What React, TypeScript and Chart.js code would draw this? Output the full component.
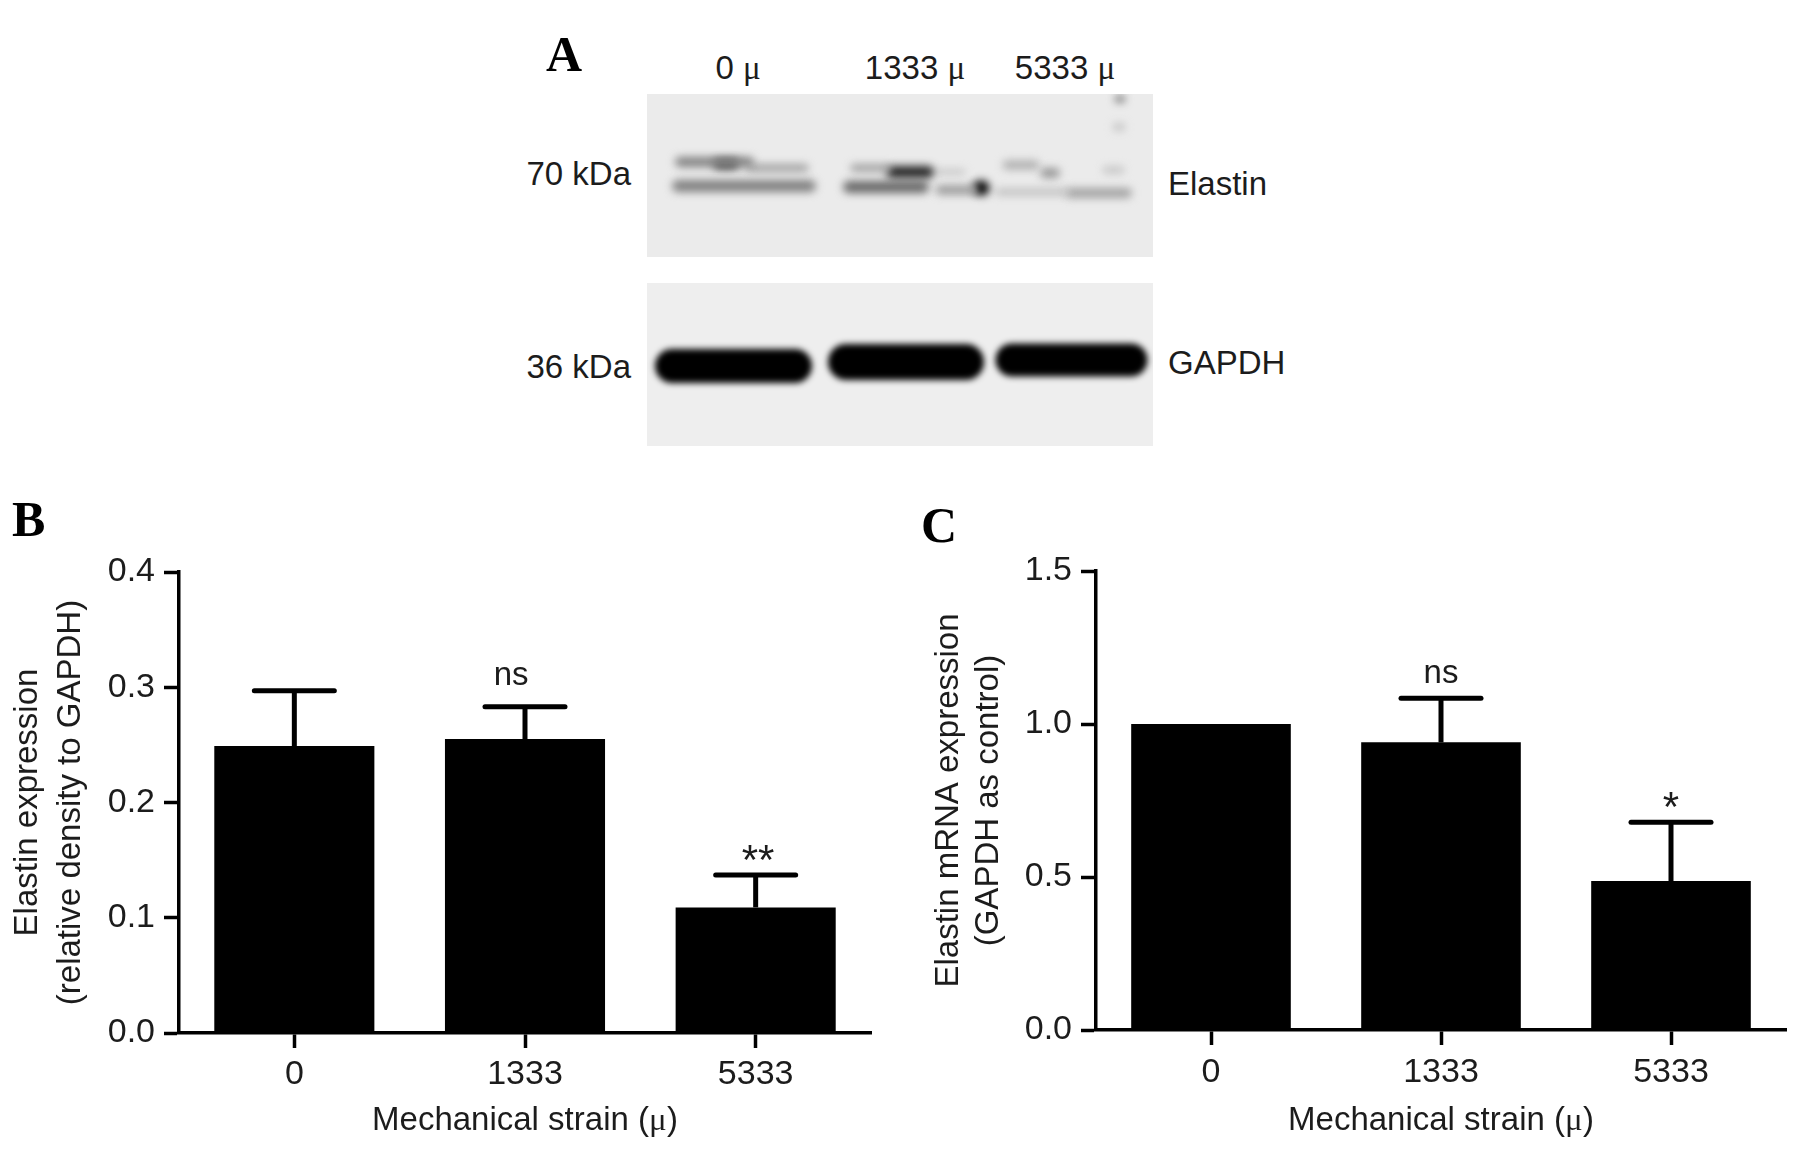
import React, { useEffect, useRef } from "react";
import { Chart, registerables } from "chart.js";

Chart.register(...registerables);

// Panel B / C data
const strainCategories = ["0", "1333", "5333"];
const proteinMeans = [0.249, 0.255, 0.109];
const proteinErrorTops = [0.297, 0.283, 0.137];
const proteinYTicks = [0, 0.1, 0.2, 0.3, 0.4];
const proteinAnnotations = ["", "ns", "**"];
const proteinAnnotationLevels = [0, 0.31, 0.148];
const proteinAnnotationShift = [0, -0.06, 0.01];

const mrnaMeans = [1.0, 0.94, 0.487];
const mrnaErrorTops = [1.0, 1.084, 0.679];
const mrnaYTicks = [0, 0.5, 1.0, 1.5];
const mrnaAnnotations = ["", "ns", "*"];
const mrnaAnnotationLevels = [0, 1.165, 0.72];
const mrnaAnnotationShift = [0, 0, 0];

// Panel A blot bands, in blot units
const elastinBandStart = [33, 71, 102, 31, 207, 245, 291, 202, 293, 333, 360, 398, 459, 352, 423, 471, 470];
const elastinBandEnd = [102, 87, 158, 163, 240, 281, 316, 276, 326, 335, 388, 408, 474, 418, 480, 475, 474];
const elastinBandLevel = [68, 70, 74, 92, 74, 78, 78, 93, 96, 94, 71, 79, 76, 98, 99, 5, 33];
const elastinBandThickness = [10, 10, 7, 12, 7, 12, 5, 12, 9, 15, 9, 10, 7, 7, 10, 6, 8];
const elastinBandDarkness = [0.45, 0.75, 0.35, 0.45, 0.35, 0.85, 0.18, 0.55, 0.35, 1, 0.25, 0.35, 0.16, 0.18, 0.3, 0.6, 0.16];

const gapdhBandStart = [25, 199, 365];
const gapdhBandEnd = [148, 319, 484];
const gapdhBandLevel = [83, 79, 77];
const gapdhBandThickness = [34, 36, 33];
const gapdhBandDarkness = [1, 1, 1];

const FONT = '"Liberation Sans", Arial, sans-serif';
const TITLE_FONT = 'MuSerif, "Liberation Sans", Arial, sans-serif';
const INK = "#1c1c1c";

type BarCfg = {
  means: number[];
  tops: number[];
  max: number;
  ticks: number[];
  notes: string[];
  noteLevels: number[];
  noteShift: number[];
  yTitle: string[];
  axisLeft: number;
  plotRight: number;
  plotTop: number;
  plotBottom: number;
  width: number;
  height: number;
  titleTop: number;
  titleLine: number;
  xTickPad: number;
};

function BarPanel(p: BarCfg & { left: number; top: number }) {
  const ref = useRef<HTMLCanvasElement>(null);
  useEffect(() => {
    const errPlugin = {
      id: "errs",
      afterDatasetsDraw(chart: any) {
        const { ctx, scales } = chart;
        const cap = 40;
        ctx.save();
        ctx.strokeStyle = "#000";
        p.means.forEach((m, i) => {
          const x = scales.x.getPixelForValue(i);
          if (p.tops[i] > m) {
            const yt = scales.y.getPixelForValue(p.tops[i]);
            const ym = scales.y.getPixelForValue(m);
            ctx.lineWidth = 5;
            ctx.lineCap = "butt";
            ctx.beginPath();
            ctx.moveTo(x, ym);
            ctx.lineTo(x, yt);
            ctx.stroke();
            ctx.lineCap = "round";
            ctx.lineWidth = 5;
            ctx.beginPath();
            ctx.moveTo(x - cap, yt);
            ctx.lineTo(x + cap, yt);
            ctx.stroke();
          }
          if (p.notes[i]) {
            ctx.fillStyle = INK;
            ctx.font = p.notes[i].startsWith("*") ? `42px ${FONT}` : `33px ${FONT}`;
            ctx.textAlign = "center";
            ctx.textBaseline = "middle";
            const nx = scales.x.getPixelForValue(i + p.noteShift[i]);
            ctx.fillText(p.notes[i], nx, scales.y.getPixelForValue(p.noteLevels[i]));
          }
        });
        ctx.restore();
      },
    };
    const tickFont = { family: FONT, size: 34 };
    const chart = new Chart(ref.current as HTMLCanvasElement, {
      type: "bar",
      data: {
        labels: strainCategories,
        datasets: [
          {
            data: p.means,
            backgroundColor: "#000",
            borderWidth: 0,
            categoryPercentage: 1,
            barPercentage: 0.694,
          },
        ],
      },
      plugins: [errPlugin],
      options: {
        responsive: false,
        animation: false,
        layout: { padding: { top: p.plotTop, right: p.width - p.plotRight, left: 0, bottom: 0 }, autoPadding: false },
        plugins: { legend: { display: false }, tooltip: { enabled: false } },
        scales: {
          x: {
            type: "category",
            afterFit: (s: any) => {
              s.height = p.height - p.plotBottom;
            },
            border: { color: "#000", width: 3.5 },
            grid: { offset: false, drawOnChartArea: false, drawTicks: true, tickLength: 15, tickColor: "#000", tickWidth: 3.5 },
            ticks: { color: INK, font: tickFont, padding: p.xTickPad, maxRotation: 0 },
            title: {
              display: true,
              text: "Mechanical strain (μ)",
              color: INK,
              font: { family: TITLE_FONT, size: 33 },
              padding: { top: 0, bottom: 10 },
            },
          },
          y: {
            type: "linear",
            min: 0,
            max: p.max,
            afterFit: (s: any) => {
              s.width = p.axisLeft;
            },
            afterBuildTicks: (s: any) => {
              s.ticks = p.ticks.map((v) => ({ value: v }));
            },
            border: { color: "#000", width: 3.5 },
            grid: { drawOnChartArea: false, drawTicks: true, tickLength: 15, tickColor: "#000", tickWidth: 3.5 },
            ticks: { color: INK, font: tickFont, padding: 9, callback: (v: any) => Number(v).toFixed(1) },
            title: {
              display: true,
              text: p.yTitle,
              color: INK,
              font: { family: FONT, size: 33, lineHeight: p.titleLine },
              padding: { top: p.titleTop, bottom: 0 },
            },
          },
        },
      },
    } as any);
    let live = true;
    document.fonts.load("33px MuSerif", "μ").then(() => {
      if (live) chart.draw();
    });
    return () => {
      live = false;
      chart.destroy();
    };
  }, []);
  return (
    <canvas
      ref={ref}
      width={p.width}
      height={p.height}
      style={{ position: "absolute", left: p.left, top: p.top, width: p.width, height: p.height }}
    />
  );
}

type BlotCfg = {
  left: number;
  top: number;
  height: number;
  background: string;
  blur: number;
  start: number[];
  end: number[];
  level: number[];
  thick: number[];
  dark: number[];
};

function Blot(p: BlotCfg) {
  const ref = useRef<HTMLCanvasElement>(null);
  useEffect(() => {
    const blurPlugin = {
      id: "blur",
      beforeDatasetsDraw(chart: any) {
        chart.ctx.save();
        chart.ctx.filter = `blur(${p.blur}px)`;
      },
      afterDatasetsDraw(chart: any) {
        chart.ctx.restore();
      },
    };
    const chart = new Chart(ref.current as HTMLCanvasElement, {
      type: "line",
      data: {
        datasets: p.start.map((s, i) => {
          const g = Math.round(232 * (1 - p.dark[i]));
          return {
            data: [
              { x: s, y: p.level[i] },
              { x: p.end[i], y: p.level[i] },
            ],
            borderColor: `rgb(${g},${g},${g})`,
            borderWidth: p.thick[i],
            borderCapStyle: "round",
            pointRadius: 0,
          };
        }),
      },
      plugins: [blurPlugin],
      options: {
        responsive: false,
        animation: false,
        layout: { padding: 0, autoPadding: false },
        plugins: { legend: { display: false }, tooltip: { enabled: false } },
        scales: {
          x: { type: "linear", min: 0, max: 506, display: false },
          y: { type: "linear", min: 0, max: p.height, reverse: true, display: false },
        },
      },
    } as any);
    return () => chart.destroy();
  }, []);
  return (
    <canvas
      ref={ref}
      width={506}
      height={p.height}
      style={{ position: "absolute", left: p.left, top: p.top, width: 506, height: p.height, background: p.background }}
    />
  );
}

const labelStyle: React.CSSProperties = {
  position: "absolute",
  fontFamily: FONT,
  color: INK,
  fontSize: 33,
  lineHeight: "38px",
  whiteSpace: "nowrap",
};
const letterStyle: React.CSSProperties = {
  position: "absolute",
  fontFamily: '"Liberation Serif", serif',
  fontWeight: 700,
  color: "#000",
  fontSize: 50,
  lineHeight: "50px",
};
const Mu = () => <span style={{ fontFamily: '"Liberation Serif", serif' }}>μ</span>;

function Lab({ cx, cy, children, align = "center" }: any) {
  const tr = align === "center" ? "translate(-50%,-50%)" : align === "right" ? "translate(-100%,-50%)" : "translate(0,-50%)";
  return <div style={{ ...labelStyle, left: cx, top: cy, transform: tr }}>{children}</div>;
}

export default function App() {
  return (
    <div style={{ position: "absolute", left: 0, top: 0, width: 1801, height: 1151, background: "#fff", overflow: "hidden", filter: "blur(0.6px)" }}>
      <style>{`@font-face{font-family:"MuSerif";src:local("Liberation Serif");unicode-range:U+03BC;}`}</style>
      <div style={{ ...letterStyle, left: 546, top: 29 }}>A</div>
      <div style={{ ...letterStyle, left: 12, top: 494 }}>B</div>
      <div style={{ ...letterStyle, left: 921, top: 500 }}>C</div>

      <Lab cx={738} cy={68}>0 <Mu /></Lab>
      <Lab cx={915} cy={68}>1333 <Mu /></Lab>
      <Lab cx={1065} cy={68}>5333 <Mu /></Lab>
      <Lab cx={631} cy={174} align="right">70 kDa</Lab>
      <Lab cx={631} cy={367} align="right">36 kDa</Lab>
      <Lab cx={1168} cy={184} align="left">Elastin</Lab>
      <Lab cx={1168} cy={363} align="left">GAPDH</Lab>

      <Blot left={647} top={94} height={163} background="#ebebeb" blur={4.5}
        start={elastinBandStart} end={elastinBandEnd} level={elastinBandLevel} thick={elastinBandThickness} dark={elastinBandDarkness} />
      <Blot left={647} top={283} height={163} background="#eeeeee" blur={3}
        start={gapdhBandStart} end={gapdhBandEnd} level={gapdhBandLevel} thick={gapdhBandThickness} dark={gapdhBandDarkness} />

      <BarPanel left={0} top={520} width={890} height={631} axisLeft={179} plotRight={871} plotTop={52} plotBottom={513}
        means={proteinMeans} tops={proteinErrorTops} max={0.4} ticks={proteinYTicks}
        notes={proteinAnnotations} noteLevels={proteinAnnotationLevels} noteShift={proteinAnnotationShift}
        yTitle={["Elastin expression", "(relative density to GAPDH)"]} titleTop={6} titleLine={1.32} xTickPad={6} />
      <BarPanel left={910} top={520} width={891} height={631} axisLeft={186} plotRight={876} plotTop={51} plotBottom={510}
        means={mrnaMeans} tops={mrnaErrorTops} max={1.5} ticks={mrnaYTicks}
        notes={mrnaAnnotations} noteLevels={mrnaAnnotationLevels} noteShift={mrnaAnnotationShift}
        yTitle={["Elastin mRNA expression", "(GAPDH as control)"]} titleTop={19} titleLine={1.21} xTickPad={7} />
    </div>
  );
}
